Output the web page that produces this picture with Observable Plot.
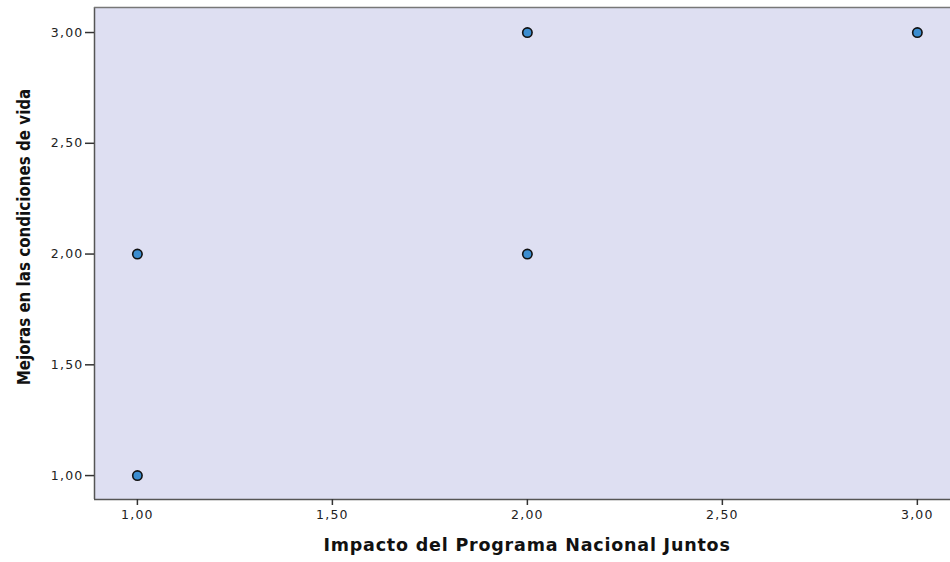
<!DOCTYPE html>
<html><head><meta charset="utf-8">
<script src="https://cdn.jsdelivr.net/npm/d3@7"></script>
<script src="https://cdn.jsdelivr.net/npm/@observablehq/plot@0.6"></script>
<style>body{margin:0;background:#fff;} svg{display:block;}</style>
</head><body><div id="chart"></div>
<script>
const impacto = [1, 1, 2, 2, 3];
const mejoras = [1, 2, 2, 3, 3];
const xTicks = [1, 1.5, 2, 2.5, 3];
const yTicks = [1, 1.5, 2, 2.5, 3];
const xLabel = "Impacto del Programa Nacional Juntos";
const yLabel = "Mejoras en las condiciones de vida";

const data = impacto.map((x, i) => ({x, y: mejoras[i]}));
const fmt = v => v.toFixed(2).replace(".", ",");

const chart = Plot.plot({
  width: 950, height: 562,
  marginLeft: 94, marginTop: 7, marginBottom: 63, marginRight: 0,
  style: {fontFamily: "'DejaVu Sans', Verdana, sans-serif", fontSize: "12.5px", color: "#222", background: "#fff", letterSpacing: "1.2px"},
  x: {domain: [0.89, 3.085], label: null},
  y: {domain: [0.892, 3.113], label: null},
  marks: [
    Plot.frame({fill: "#dedff2", stroke: null}),
    Plot.ruleX([0.89], {stroke: "#555", strokeWidth: 1.5}),
    Plot.ruleY([3.113], {stroke: "#777", strokeWidth: 1.5}),
    Plot.ruleY([0.892], {stroke: "#555", strokeWidth: 1.5}),
    Plot.axisX({ticks: xTicks, tickFormat: fmt, tickSize: 6, tickPadding: 5, stroke: "#333", strokeWidth: 1.5, label: null}),
    Plot.axisY({ticks: yTicks, tickFormat: fmt, tickSize: 9, tickPadding: 2, stroke: "#333", strokeWidth: 1.5, label: null}),
    Plot.dot(data, {x: "x", y: "y", r: 4.7, fill: "#3b8dd0", stroke: "#111", strokeWidth: 1.6})
  ]
});

const svg = d3.select(chart);
svg.append("text")
  .attr("x", 527).attr("y", 551)
  .attr("text-anchor", "middle")
  .style("font-family", "'DejaVu Sans', Verdana, sans-serif")
  .style("letter-spacing", "0.8px")
  .style("font-weight", "bold").style("font-size", "17.5px").style("fill", "#111")
  .text(xLabel);
svg.append("text")
  .attr("transform", "translate(30,237) rotate(-90)")
  .attr("text-anchor", "middle")
  .style("font-family", "'Liberation Sans Narrow', 'DejaVu Sans Condensed', Arial, sans-serif")
  .style("letter-spacing", "0px")
  .style("font-weight", "bold").style("font-size", "16.8px").style("fill", "#111")
  .text(yLabel);

document.getElementById("chart").appendChild(chart);
</script>
</body></html>
